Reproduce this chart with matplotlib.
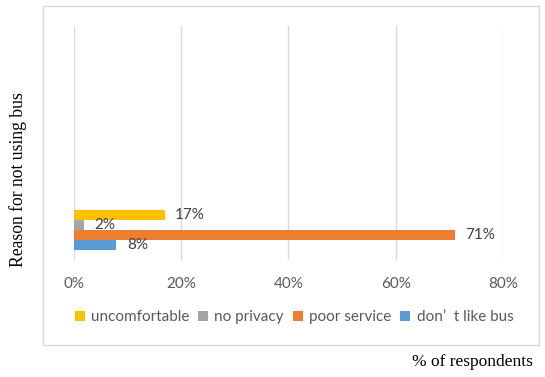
import matplotlib
matplotlib.use("Agg")
import matplotlib.pyplot as plt
from matplotlib.patches import Rectangle

# data
reasons = ["uncomfortable", "no privacy", "poor service", "don\u2019  t like bus"]
percent = [17, 2, 71, 8]
colors = ["#ffc000", "#a5a5a5", "#ed7d31", "#5b9bd5"]
xticks = [0, 20, 40, 60, 80]
xticklabels = ["0%", "20%", "40%", "60%", "80%"]

W, H = 545, 377
fig = plt.figure(figsize=(W / 100, H / 100), dpi=100)

# outer chart border
fig.patches.append(Rectangle((43 / W, 1 - 345 / H), (539 - 43) / W, (345 - 6) / H,
                             transform=fig.transFigure, fill=False,
                             edgecolor="#d9d9d9", lw=1))

ax = fig.add_axes([73.5 / W, 1 - 260 / H, (503 - 73.5) / W, (260 - 26) / H])

h = 0.25
offsets = [0.375, 0.125, -0.125, -0.375]
for name, val, col, off in zip(reasons, percent, colors, offsets):
    ax.barh(off, val, height=h, color=col, label=name, zorder=3)
    ax.annotate(f"{val}%", (val, off), xytext=(7.5, 0), textcoords="offset points",
                va="center", ha="left", fontsize=11, color="#404040",
                family="Lato")

ax.set_xlim(0, 80)
ax.set_ylim(-0.75, 5.1)
ax.set_xticks(xticks)
ax.set_xticklabels(xticklabels, family="Lato", fontsize=11, color="#595959")
ax.set_yticks([])
ax.tick_params(axis="x", length=0, pad=12)
ax.grid(axis="x", color="#d9d9d9", lw=1, zorder=0)
for s in ax.spines.values():
    s.set_visible(False)

leg = ax.legend(loc="center", bbox_to_anchor=(294 / W, 1 - 317 / H),
                bbox_transform=fig.transFigure, ncol=4, frameon=False,
                prop={"family": "Lato", "size": 11}, handlelength=0.65,
                handleheight=0.65, handletextpad=0.4, columnspacing=0.6,
                labelcolor="#595959")

fig.text(18 / W, 1 - 180 / H, "Reason for not using bus", rotation=90,
         ha="center", va="center", family="Liberation Serif", fontsize=12.7)
fig.text(533 / W, 1 - 362 / H, "% of respondents", ha="right", va="center",
         family="Liberation Serif", fontsize=12.5)

fig.savefig("out.png", dpi=100)
